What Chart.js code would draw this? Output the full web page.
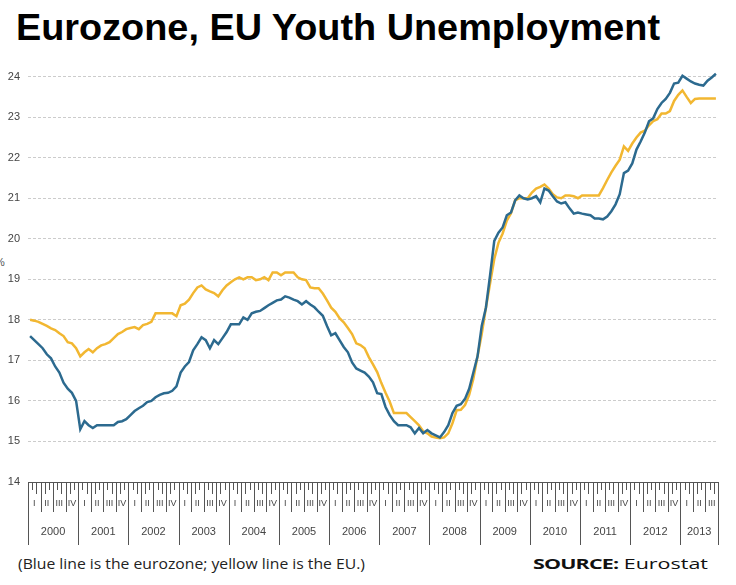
<!DOCTYPE html>
<html>
<head>
<meta charset="utf-8">
<script src="https://cdn.jsdelivr.net/npm/chart.js@4/dist/chart.umd.min.js"></script>
<style>
  html, body { margin: 0; padding: 0; background: #fff; }
  #page { position: relative; width: 736px; height: 585px; overflow: hidden; background: #fff; }
  #title { position: absolute; left: 16px; top: 8px; font: bold 36px "Liberation Sans", Arial, sans-serif; line-height: 40px; color: #000; white-space: nowrap; transform-origin: 0 0; }
  #pct { position: absolute; left: -5px; top: 256px; font: 11px "Liberation Sans", Arial, sans-serif; color: #555; }
  #chartBox { position: absolute; left: 0; top: 60px; width: 736px; height: 490px; }
  #note { position: absolute; left: 18px; top: 554px; font: 14px "Open Sans", sans-serif; color: #222; white-space: nowrap; transform-origin: 0 0; }
  #source { position: absolute; left: 533px; top: 553px; font: 15px "Open Sans", sans-serif; color: #111; white-space: nowrap; transform-origin: 0 0; }
  #source b { letter-spacing: -0.6px; }
</style>
</head>
<body>
<div id="page">
  <div id="title">Eurozone, EU Youth Unemployment</div>
  <div id="pct">%</div>
  <div id="chartBox"><canvas id="youthChart"></canvas></div>
  <div id="note">(Blue line is the eurozone; yellow line is the EU.)</div>
  <div id="source"><b>SOURCE:</b> Eurostat</div>
</div>
<script>
// Jugendarbeitslosigkeit Eurozone / EU, monatlich 2000 - Sep 2013
const YEARS = ['2000', '2001', '2002', '2003', '2004', '2005', '2006', '2007', '2008', '2009', '2010', '2011', '2012', '2013'];
const QUARTERS = ['I', 'II', 'III', 'IV'];
const Y_TICKS = [14, 15, 16, 17, 18, 19, 20, 21, 22, 23, 24];

// Eurozone (blue)
const EUROZONE = [
  17.6, 17.5, 17.4, 17.3, 17.15, 17.05, 16.85, 16.7, 16.45, 16.3, 16.2, 16.0,
  15.3, 15.5, 15.4, 15.33, 15.4, 15.4, 15.4, 15.4, 15.4, 15.48, 15.5, 15.55,
  15.65, 15.75, 15.82, 15.88, 15.97, 16.0, 16.09, 16.15, 16.19, 16.2, 16.25, 16.36,
  16.7, 16.85, 16.96, 17.25, 17.4, 17.57, 17.5, 17.3, 17.5, 17.4, 17.55, 17.7,
  17.89, 17.89, 17.89, 18.06, 18.0, 18.16, 18.2, 18.22, 18.29, 18.36, 18.42, 18.48,
  18.5, 18.58, 18.55, 18.5, 18.46, 18.38, 18.46, 18.38, 18.31, 18.2, 18.1, 17.85,
  17.62, 17.67, 17.5, 17.33, 17.2, 16.95, 16.8, 16.75, 16.7, 16.6, 16.46, 16.19,
  16.17, 15.85, 15.65, 15.5, 15.4, 15.4, 15.4, 15.35, 15.2, 15.33, 15.2, 15.28,
  15.2, 15.15, 15.1, 15.23, 15.4, 15.7, 15.88, 15.92, 16.05, 16.3, 16.7, 17.1,
  17.85, 18.3, 19.1, 19.95, 20.15, 20.28, 20.58, 20.65, 20.95, 21.07, 21.0, 20.97,
  21.0, 21.05, 20.9, 21.24, 21.19, 21.05, 20.92, 20.87, 20.9, 20.75, 20.62, 20.65,
  20.62, 20.6, 20.58, 20.5, 20.5, 20.48, 20.55, 20.68, 20.85, 21.1, 21.62, 21.68,
  21.86, 22.2, 22.4, 22.62, 22.9, 22.97, 23.2, 23.35, 23.45, 23.6, 23.83, 23.85,
  24.02, 23.95, 23.88, 23.83, 23.8, 23.78, 23.9, 23.98, 24.07
];

// EU (yellow)
const EU = [
  18.0, 17.98, 17.95, 17.9, 17.85, 17.79, 17.75, 17.67, 17.6, 17.45, 17.42, 17.3,
  17.1, 17.2, 17.28, 17.2, 17.3, 17.37, 17.4, 17.45, 17.55, 17.65, 17.7, 17.77,
  17.8, 17.82, 17.77, 17.87, 17.9, 17.95, 18.16, 18.16, 18.16, 18.16, 18.16, 18.09,
  18.36, 18.4, 18.5, 18.66, 18.8, 18.85, 18.75, 18.7, 18.66, 18.58, 18.73, 18.85,
  18.93, 19.0, 19.05, 19.0, 19.05, 19.05, 18.98, 19.0, 19.05, 18.98, 19.17, 19.17,
  19.1, 19.17, 19.17, 19.17, 19.05, 19.0, 18.98, 18.8, 18.78, 18.78, 18.65, 18.48,
  18.3, 18.2, 18.04, 17.94, 17.8, 17.65, 17.42, 17.38, 17.3, 17.08, 16.9, 16.71,
  16.44, 16.2, 15.98, 15.7, 15.7, 15.7, 15.7, 15.6, 15.5, 15.4, 15.25, 15.2,
  15.12, 15.1, 15.08, 15.1, 15.2, 15.45, 15.77, 15.78, 15.9, 16.15, 16.55, 17.1,
  17.65, 18.3, 18.9, 19.5, 19.9, 20.13, 20.45, 20.63, 20.95, 21.0, 21.0, 21.0,
  21.14, 21.24, 21.28, 21.34, 21.24, 21.1, 21.02, 21.0, 21.07, 21.07, 21.05, 21.0,
  21.07, 21.07, 21.07, 21.07, 21.07, 21.25, 21.45, 21.64, 21.8, 21.95, 22.28, 22.17,
  22.35, 22.5, 22.62, 22.67, 22.8, 22.9, 22.95, 23.09, 23.09, 23.15, 23.4, 23.55,
  23.66, 23.5, 23.35, 23.45, 23.46, 23.46, 23.46, 23.46, 23.46
];

// Monatslabels aus den Jahren bauen
const MONTHS = [];
YEARS.forEach(function(y) {
    for (let m = 1; m <= 12; m++) {
        if (MONTHS.length < EUROZONE.length) MONTHS.push(y + '-' + String(m).padStart(2, '0'));
    }
});

// Text auf Referenzbreite stauchen/strecken
function fitWidth(id, w) {
    const el = document.getElementById(id);
    const r = el.getBoundingClientRect().width;
    el.style.transform = 'scaleX(' + (w / r) + ')';
}
fitWidth('title', 644);
fitWidth('note', 347);
fitWidth('source', 175);

// Lineal unter der Zeitachse: Monate, Quartale, Jahre
const rulerPlugin = {
    id: 'ruler',
    afterDraw: function(chart) {
        const ctx = chart.ctx;
        const xs = chart.scales.x;
        const area = chart.chartArea;
        const n = MONTHS.length;
        const slot = xs.getPixelForValue(1) - xs.getPixelForValue(0);
        const edge = function(i) { return xs.getPixelForValue(i) - slot / 2; };
        const y0 = area.bottom;
        ctx.save();
        ctx.strokeStyle = '#555';
        ctx.lineWidth = 1;
        ctx.beginPath();
        ctx.moveTo(edge(0), y0 + 0.5);
        ctx.lineTo(edge(n), y0 + 0.5);
        for (let i = 0; i <= n; i++) {
            const px = Math.round(edge(i)) + 0.5;
            let len = (i % 2 === 0) ? 12 : 8;
            if (i % 12 === 0 || i === n) len = 63;
            else if (i % 3 === 0) len = 30;
            ctx.moveTo(px, y0);
            ctx.lineTo(px, y0 + len);
        }
        ctx.stroke();

        ctx.fillStyle = '#444';
        ctx.textAlign = 'center';
        ctx.textBaseline = 'middle';
        ctx.font = '9px "Liberation Sans", Arial, sans-serif';
        for (let q = 0; q * 3 < n; q++) {
            const a = edge(q * 3), b = edge(Math.min(q * 3 + 3, n));
            ctx.fillText(QUARTERS[q % 4], (a + b) / 2, y0 + 22);
        }
        ctx.font = '11px "Liberation Sans", Arial, sans-serif';
        YEARS.forEach(function(y, k) {
            const a = edge(k * 12), b = edge(Math.min(k * 12 + 12, n));
            ctx.fillText(y, (a + b) / 2, y0 + 50);
        });
        ctx.restore();
    }
};

const ctx = document.getElementById('youthChart').getContext('2d');
new Chart(ctx, {
    type: 'line',
    data: {
        labels: MONTHS,
        datasets: [{
            label: 'Eurozone',
            data: EUROZONE,
            borderColor: '#2c6a8f',
            borderWidth: 2.5,
            pointRadius: 0,
            tension: 0,
            clip: false
        }, {
            label: 'EU',
            data: EU,
            borderColor: '#f2b731',
            borderWidth: 2.5,
            pointRadius: 0,
            tension: 0,
            clip: false
        }]
    },
    options: {
        responsive: true,
        maintainAspectRatio: false,
        animation: false,
        layout: {
            padding: { top: 2, right: 18, bottom: 68, left: 0 }
        },
        scales: {
            x: {
                type: 'category',
                offset: true,
                display: false
            },
            y: {
                min: 14,
                max: 24.05,
                afterBuildTicks: function(scale) {
                    scale.ticks = Y_TICKS.map(function(v) { return { value: v }; });
                },
                afterFit: function(scale) {
                    scale.width = 28;
                },
                grid: {
                    drawTicks: false,
                    color: function(c) { return c.tick && c.tick.value === 14 ? 'rgba(0,0,0,0)' : '#cccccc'; },
                    lineWidth: 1
                },
                border: { display: false, dash: [3, 2] },
                ticks: {
                    padding: 8,
                    color: '#444',
                    font: { family: '"Liberation Sans", Arial, sans-serif', size: 11 }
                }
            }
        },
        plugins: {
            legend: { display: false },
            tooltip: { enabled: false }
        }
    },
    plugins: [rulerPlugin]
});
</script>
</body>
</html>
